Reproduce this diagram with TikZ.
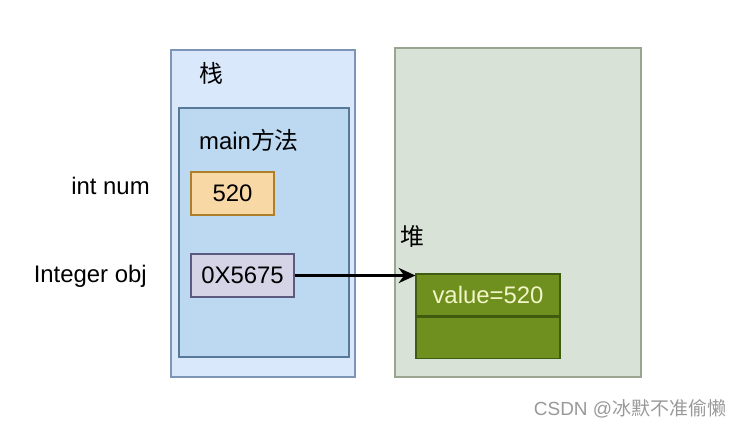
\documentclass[tikz,border=0pt]{standalone}
\usepackage{fontspec}
\setmainfont{Liberation Sans}
\newfontfamily\cjk{Noto Sans CJK SC}
\usetikzlibrary{arrows.meta, positioning}

\definecolor{stackfill}{HTML}{DAE8FC}
\definecolor{stackline}{HTML}{7E95B5}
\definecolor{framefill}{HTML}{BCD9F1}
\definecolor{frameline}{HTML}{58799A}
\definecolor{numfill}{HTML}{F8D9A6}
\definecolor{numline}{HTML}{B07F2A}
\definecolor{reffill}{HTML}{D5D3E6}
\definecolor{refline}{HTML}{5B5A80}
\definecolor{heapfill}{HTML}{D8E2D6}
\definecolor{heapline}{HTML}{9AA591}
\definecolor{objfill}{HTML}{6F901F}
\definecolor{objline}{HTML}{3E5B10}
\definecolor{objtext}{HTML}{F2F5C8}

\begin{document}
\begin{tikzpicture}[x=0.025cm, y=-0.025cm,
  area/.style={rectangle, line width=0.8pt, inner sep=0pt},
  cell/.style={rectangle, line width=0.8pt, inner sep=0pt, minimum height=1.075cm,
    font=\fontsize{17}{20}\selectfont},
  lbl/.style={font=\fontsize{17}{20}\selectfont, inner sep=0pt},
  ptr/.style={-{Stealth[length=4.2mm, width=3.8mm]}, line width=1.6pt, black}
]
\useasboundingbox (0,0) rectangle (741,428);
% === Stack: outer area and main frame ===
\node[area, fill=stackfill, draw=stackline, minimum width=4.6cm, minimum height=8.175cm] (stack) at (263,213.5) {};
\node[area, fill=framefill, draw=frameline, minimum width=4.25cm, minimum height=6.225cm] (frame) at (264,232.5) {};
\node[lbl] (stacklbl) at (211,73) {\cjk 栈};
\node[lbl] (framelbl) at (249,140) {main{\cjk 方法}};
% === Local variables ===
\node[cell, fill=numfill, draw=numline, minimum width=2.075cm] (num) at (232.5,193.5) {520};
\node[cell, fill=reffill, draw=refline, minimum width=2.575cm] (ref) at (242.5,275.5) {0X5675};
\node[lbl, anchor=east] (numlbl) at (150,186) {int num};
\node[lbl, anchor=east] (reflbl) at (147,276) {Integer obj};
% === Heap with the Integer object ===
\node[area, fill=heapfill, draw=heapline, minimum width=6.15cm, minimum height=8.225cm] (heap) at (518,212.5) {};
\node[lbl] (heaplbl) at (412,236) {\cjk 堆};
\node[cell, fill=objfill, draw=objline, text=objtext, minimum width=3.6cm, minimum height=1.05cm] (objtop) at (488,295) {value=520};
\node[cell, fill=objfill, draw=objline, minimum width=3.6cm, minimum height=1.025cm, below=0pt of objtop] (objbot) {};
% === Reference arrow ===
\draw[ptr] (ref.east) -- (ref.east -| objtop.west);
% === Watermark ===
\node[font=\fontsize{13.5}{16}\selectfont, text=gray!80, inner sep=0pt] (mark) at (630,409) {CSDN @{\cjk 冰默不准偷懒}};
\end{tikzpicture}
\end{document}
